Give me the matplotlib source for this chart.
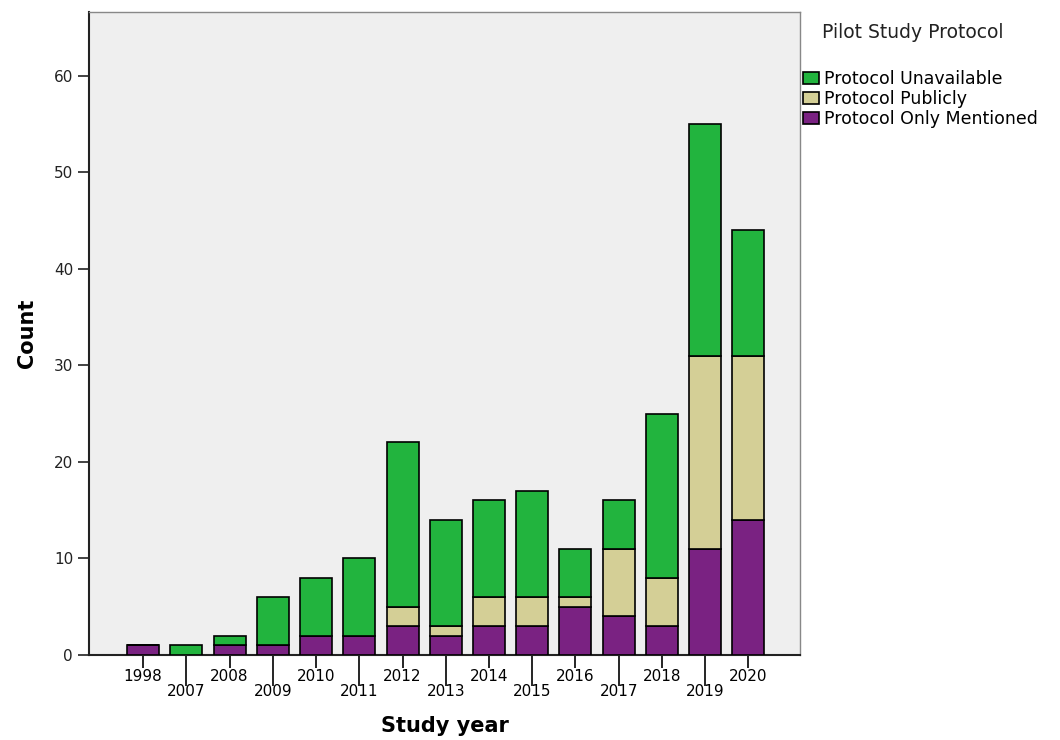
import numpy as np
import matplotlib
matplotlib.use("Agg")
import matplotlib.pyplot as plt

years = ["1998", "2007", "2008", "2009", "2010", "2011", "2012", "2013",
         "2014", "2015", "2016", "2017", "2018", "2019", "2020"]
only_mentioned = [1, 0, 1, 1, 2, 2, 3, 2, 3, 3, 5, 4, 3, 11, 14]
publicly = [0, 0, 0, 0, 0, 0, 2, 1, 3, 3, 1, 7, 5, 20, 17]
unavailable = [0, 1, 1, 5, 6, 8, 17, 11, 10, 11, 5, 5, 17, 24, 13]

c_green = "#22B43E"
c_khaki = "#D4CF96"
c_purple = "#7A2282"

fig = plt.figure(figsize=(10.6, 7.4), dpi=100)
ax = fig.add_axes([0.084, 0.115, 0.671, 0.869])
ax.set_facecolor("#EFEFEF")

x = np.arange(len(years))
w = 0.74
om = np.array(only_mentioned)
pb = np.array(publicly)
un = np.array(unavailable)

kw = dict(width=w, edgecolor="black", linewidth=1.2, zorder=3)
b1 = ax.bar(x, om, color=c_purple, label="Protocol Only Mentioned", **kw)
b2 = ax.bar(x, pb, bottom=om, color=c_khaki, label="Protocol Publicly", **kw)
b3 = ax.bar(x, un, bottom=om + pb, color=c_green, label="Protocol Unavailable", **kw)

ax.set_xlim(-1.25, len(years) - 1 + 1.2)
ax.set_ylim(0, 66.6)
ax.set_yticks(range(0, 61, 10))
ax.tick_params(axis="y", length=8, width=1.2, labelsize=11, colors="#222222")

# alternate tick labels: even positions on top row, odd ones below on long ticks
ax.set_xticks(x[::2])
ax.set_xticklabels(years[::2])
ax.set_xticks(x[1::2], minor=True)
ax.set_xticklabels(years[1::2], minor=True)
ax.tick_params(axis="x", which="major", length=9, width=1.2, labelsize=11, pad=1)
ax.tick_params(axis="x", which="minor", length=22, width=1.2, labelsize=11, pad=-1)

for s in ["left", "bottom"]:
    ax.spines[s].set_linewidth(1.5)
    ax.spines[s].set_color("#222222")
for s in ["top", "right"]:
    ax.spines[s].set_color("#888888")
    ax.spines[s].set_linewidth(1.0)

ax.set_ylabel("Count", fontsize=15, fontweight="bold", labelpad=12)
ax.set_xlabel("Study year", fontsize=15, fontweight="bold", labelpad=12)

fig.text(822 / 1060, 1 - 32 / 740, "Pilot Study Protocol", fontsize=13.5,
         va="center", ha="left", color="#222222")
leg = fig.legend(handles=[b3, b2, b1], loc="upper left",
                 bbox_to_anchor=(803 / 1060, 1 - 70 / 740),
                 frameon=False, fontsize=12.5,
                 handlelength=0.9, handleheight=0.75, handletextpad=0.3,
                 labelspacing=0.12, borderaxespad=0, borderpad=0)

fig.savefig("out.png", dpi=100)
